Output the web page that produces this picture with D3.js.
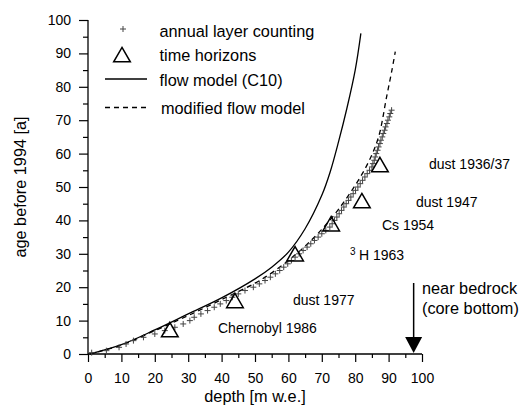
<!DOCTYPE html>
<html><head><meta charset="utf-8">
<script src="https://cdn.jsdelivr.net/npm/d3@7"></script>
<style>
html,body{margin:0;padding:0;background:#fff;}
svg{display:block;}
text{font-family:"Liberation Sans",Arial,Helvetica,sans-serif;fill:#000;}
</style></head>
<body>
<svg id="chart" width="520" height="405"></svg>
<script>
// ---- data ----
const xTicks = [0,10,20,30,40,50,60,70,80,90,100];
const yTicks = [0,10,20,30,40,50,60,70,80,90,100];
const minorTicks = [5,15,25,35,45,55,65,75,85,95];

// annual layer counting: depth [m w.e.] and age [a]
const layerDepth = [1.1,5.5,9.3,11.4,13.6,16.6,20,23,26,28.5,30.5,31.8,33.8,35.8,37.8,39.6,41.4,43.2,45,47,49.5,
  51.3,53,54.6,56.1,57.4,58.6,59.8,60.9,62,63.2,64.4,65.6,66.7,67.8,68.9,70,71.2,72.4,73.1,73.8,74.5,75.2,75.9,
  76.6,77.3,78,78.7,79.4,80.1,80.8,81.5,82.2,82.9,83.6,84.3,85,85.3,85.7,86,86.3,86.7,87,87.4,87.7,88.1,88.4,
  88.8,89.1,89.5,89.8,90.2,90.5,90.9];
const layerAge = [0.4,1,2,3,4,5,6,7,8,9,10,11,12,13,14,15,16,17,18,19,20,21,22,23,24,25,26,27,28,29,30,31,32,33,
  34,35,36,37,38,39,40,41,42,43,44,45,46,47,48,49,50,51,52,53,54,55,56,57,58,59,60,61,62,63,64,65,66,67,68,69,
  70,71,72,73];

// time horizons
const horizonDepth = [24.5,44,62,72.8,82,87.4];
const horizonAge = [6.6,15.3,29.3,38.3,45.2,56];

// flow model (C10)
const flowDepth = [0.5,10,20,30,40,50,55,60,65,70,72.5,75,77.5,80,81.7];
const flowAge = [0,2.8,7.2,12,16.8,22.5,26,30.5,37.5,47.5,54.5,63.5,73.5,85,96];

// modified flow model
const modDepth = [0.5,10,20,30,40,50,55,60,65,70,75,80,84,87,89.4,91,92];
const modAge = [0,2.7,7,11.5,16.3,21.2,24.3,28,32.3,37.3,43.3,50.5,57.5,65,77,85,90.5];

// annotations
const annotLabels = ["dust 1936/37","dust 1947","Cs 1954","H 1963","dust 1977","Chernobyl 1986"];
const legendLabels = ["annual layer counting","time horizons","flow model (C10)","modified flow model"];
const bedrockDepth = 97.5;

// ---- drawing ----
const svg = d3.select("#chart");
const x = d3.scaleLinear().domain([0,100]).range([88,422]);
const y = d3.scaleLinear().domain([0,100]).range([354,20]);

// axes
const gx = svg.append("g").attr("transform","translate(0,354)");
gx.call(d3.axisBottom(x).tickValues(xTicks).tickSize(8).tickPadding(11).tickFormat(d3.format("d")));
gx.append("g").call(d3.axisBottom(x).tickValues(minorTicks).tickSize(4).tickFormat(""));
const gy = svg.append("g").attr("transform","translate(88,0)");
gy.call(d3.axisLeft(y).tickValues(yTicks).tickSize(9).tickPadding(8).tickFormat(d3.format("d")));
gy.append("g").call(d3.axisLeft(y).tickValues(minorTicks).tickSize(5).tickFormat(""));
svg.selectAll(".domain").attr("stroke","#000").attr("stroke-width",1.3);
svg.selectAll(".tick line").attr("stroke","#000").attr("stroke-width",1.2);
svg.selectAll(".tick text").attr("font-size",14).attr("font-family","Liberation Sans, Arial, sans-serif");
gx.select(".domain").attr("d",`M${x(0)},0H${x(100)}`);
gy.select(".domain").attr("d",`M0,${y(0)}V${y(100)}`);
gx.selectAll("g .domain").filter(function(){return this.parentNode!==gx.node();}).remove();
gy.selectAll("g .domain").filter(function(){return this.parentNode!==gy.node();}).remove();

// axis titles
svg.append("text").attr("x",255).attr("y",402).attr("text-anchor","middle").attr("font-size",16.3).text("depth [m w.e.]");
svg.append("text").attr("transform","translate(26,187) rotate(-90)").attr("text-anchor","middle").attr("font-size",16.3).text("age before 1994 [a]");

// lines
const line = d3.line().x(d=>x(d[0])).y(d=>y(d[1])).curve(d3.curveCatmullRom.alpha(0.5));
svg.append("path").datum(flowDepth.map((d,i)=>[d,flowAge[i]]))
  .attr("d",line).attr("fill","none").attr("stroke","#000").attr("stroke-width",1.3);
svg.append("path").datum(modDepth.map((d,i)=>[d,modAge[i]]))
  .attr("d",line).attr("fill","none").attr("stroke","#000").attr("stroke-width",1.3).attr("stroke-dasharray","5,4");

// crosses
function plus(sel, s){ sel.attr("d",`M${-s},0H${s}M0,${-s}V${s}`).attr("stroke","#444").attr("stroke-width",1).attr("fill","none"); }
svg.append("g").selectAll("path").data(layerDepth.map((d,i)=>[d,layerAge[i]])).join("path")
  .attr("transform",d=>`translate(${x(d[0])},${y(d[1])})`).call(plus,3);

// triangles
const tri = d3.symbol().type(d3.symbolTriangle).size(120);
svg.append("g").selectAll("path").data(horizonDepth.map((d,i)=>[d,horizonAge[i]])).join("path")
  .attr("transform",d=>`translate(${x(d[0])},${y(d[1])})`).attr("d",tri)
  .attr("fill","none").attr("stroke","#000").attr("stroke-width",1.5);

// annotations
const ann = svg.append("g").attr("font-size",14);
const annPos = [[429,169],[416,207],[382,230],[359,260],[293,305],[218,333]];
annotLabels.forEach((t,i)=>{
  ann.append("text").attr("x",annPos[i][0]).attr("y",annPos[i][1]).attr("font-size",14).text(t);
});
ann.append("text").attr("x",350).attr("y",255).attr("font-size",10).text("3");

// bedrock arrow
const bx = x(bedrockDepth);
svg.append("line").attr("x1",bx).attr("x2",bx).attr("y1",283).attr("y2",340).attr("stroke","#000").attr("stroke-width",1.5);
svg.append("path").attr("d",`M${bx-8.5},337L${bx+8.5},337L${bx},353Z`).attr("fill","#000");
svg.append("text").attr("x",422).attr("y",294).attr("font-size",16.3).text("near bedrock");
svg.append("text").attr("x",422).attr("y",314).attr("font-size",16.3).text("(core bottom)");

// legend
const lg = svg.append("g").attr("font-size",16.3);
lg.append("path").attr("transform","translate(123,29)").call(plus,3);
lg.append("path").attr("transform","translate(122,57)").attr("d",tri).attr("fill","none").attr("stroke","#000").attr("stroke-width",1.5);
lg.append("line").attr("x1",105).attr("x2",147).attr("y1",79).attr("y2",79).attr("stroke","#000").attr("stroke-width",1.3);
lg.append("line").attr("x1",105).attr("x2",147).attr("y1",107.5).attr("y2",107.5).attr("stroke","#000").attr("stroke-width",1.3).attr("stroke-dasharray","5,4");
const lgY = [37,61,86,114];
const lgX = [159.5,159.5,159.5,161];
legendLabels.forEach((t,i)=>{
  lg.append("text").attr("x",lgX[i]).attr("y",lgY[i]).attr("font-size",16.3).text(t);
});
</script>
</body></html>
